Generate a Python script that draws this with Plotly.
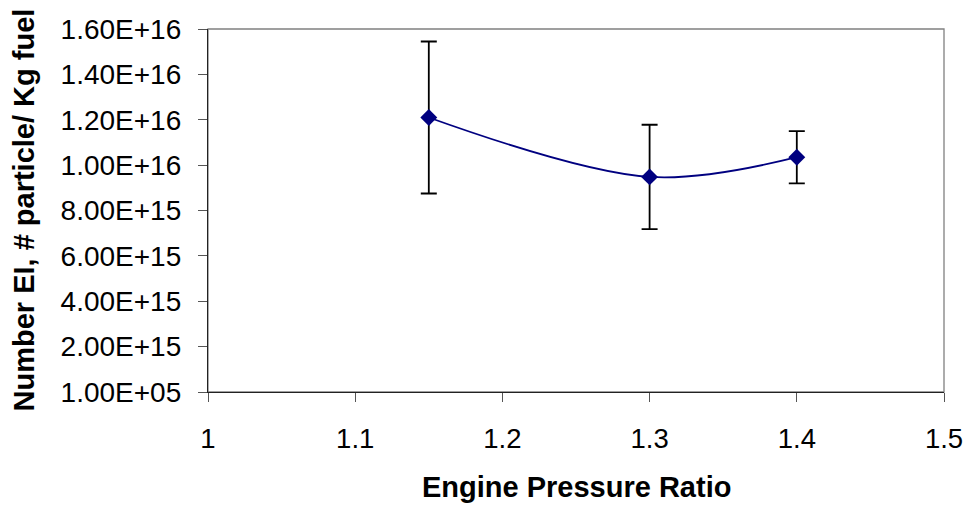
import plotly.graph_objects as go

# Data
epr = [1.15, 1.3, 1.4]
number_ei = [1.21e16, 0.948e16, 1.035e16]
err = [0.335e16, 0.23e16, 0.115e16]

x_ticks = [1, 1.1, 1.2, 1.3, 1.4, 1.5]
x_ticktext = ["1", "1.1", "1.2", "1.3", "1.4", "1.5"]
y_ticks = [1e5, 2e15, 4e15, 6e15, 8e15, 1e16, 1.2e16, 1.4e16, 1.6e16]
y_ticktext = ["1.00E+05", "2.00E+15", "4.00E+15", "6.00E+15", "8.00E+15",
              "1.00E+16", "1.20E+16", "1.40E+16", "1.60E+16"]

FONT = "Liberation Sans, Arial, sans-serif"
NAVY = "#000080"

fig = go.Figure()
fig.add_trace(go.Scatter(
    x=epr, y=number_ei,
    mode="lines+markers",
    line=dict(color=NAVY, width=1.8, shape="spline", smoothing=1.0),
    marker=dict(symbol="diamond", size=13, color=NAVY),
    error_y=dict(type="data", array=err, visible=True, color="black",
                 thickness=1.8, width=8),
    showlegend=False,
))

L, R, T, B = 208, 24, 29, 116
W, H = 968, 508
pw = W - L - R
ph = H - T - B

fig.add_shape(type="rect", xref="paper", yref="paper", x0=0, x1=1, y0=0, y1=1,
              line=dict(color="#808080", width=1.3), layer="below")

fig.update_layout(
    width=W, height=H,
    margin=dict(l=L, r=R, t=T, b=B, autoexpand=False),
    paper_bgcolor="white", plot_bgcolor="white",
    font=dict(family=FONT, size=27, color="black"),
    xaxis=dict(range=[1, 1.5], tickvals=x_ticks, ticktext=x_ticktext,
               showgrid=False, zeroline=False, showline=True,
               linecolor="#222", linewidth=1.3,
               ticks="outside", ticklen=9, tickcolor="#555", tickwidth=1.2,
               ticklabelstandoff=13,
               tickfont=dict(family=FONT, size=27.5, color="black")),
    yaxis=dict(range=[1e5, 1.6e16], tickvals=y_ticks, ticktext=y_ticktext,
               showgrid=False, zeroline=False, showline=True,
               linecolor="#222", linewidth=1.3,
               ticks="outside", ticklen=9, tickcolor="#555", tickwidth=1.2,
               ticklabelstandoff=11,
               tickfont=dict(family=FONT, size=28, color="black")),
    annotations=[
        dict(text="<b>Engine Pressure Ratio</b>", xref="paper", yref="paper",
             x=(576 - L) / pw, y=-(487 - (H - B)) / ph,
             xanchor="center", yanchor="middle", showarrow=False,
             font=dict(family=FONT, size=29, color="black")),
        dict(text="<b>Number EI, # particle/ Kg fuel</b>", xref="paper", yref="paper",
             x=(23 - L) / pw, y=0.5, textangle=-90,
             xanchor="center", yanchor="middle", showarrow=False,
             font=dict(family=FONT, size=29, color="black")),
    ],
)

fig.write_html("out.html", config={"displayModeBar": False},
               post_script="document.body.style.margin='0';document.body.style.overflow='hidden';")
